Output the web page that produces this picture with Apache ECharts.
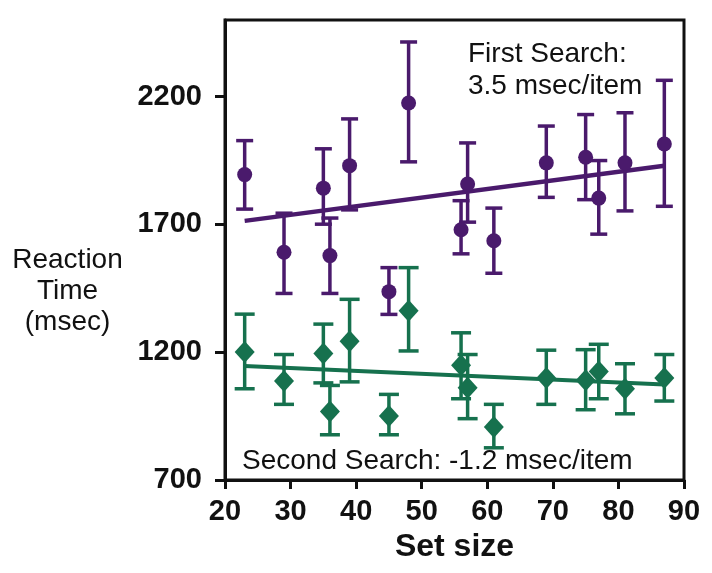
<!DOCTYPE html>
<html>
<head>
<meta charset="utf-8">
<script src="https://cdn.jsdelivr.net/npm/echarts@6/dist/echarts.min.js"></script>
<style>
html,body{margin:0;padding:0;background:#fff;}
#c{width:712px;height:573px;}
</style>
</head>
<body>
<div id="c"></div>
<script>
// ---- data ----
var setSize = [23, 29, 35, 36, 39, 45, 48, 56, 57, 61, 69, 75, 77, 81, 87];

var firstMean = [1895, 1591, 1842, 1578, 1930, 1437, 2175, 1679, 1858, 1636, 1941, 1963, 1803, 1941, 2015];
var firstHigh = [2028, 1744, 1996, 1725, 2113, 1531, 2414, 1793, 2019, 1764, 2085, 2130, 1950, 2137, 2264];
var firstLow  = [1760, 1430, 1701, 1430, 1757, 1348, 1945, 1585, 1709, 1509, 1806, 1797, 1662, 1753, 1771];

var secondMean = [1201, 1087, 1195, 968, 1243, 950, 1362, 1149, 1061, 907, 1099, 1090, 1125, 1057, 1099];
var secondHigh = [1349, 1191, 1310, 1070, 1407, 1035, 1531, 1276, 1191, 996, 1208, 1210, 1231, 1155, 1191];
var secondLow  = [1057, 996, 1080, 877, 1084, 877, 1205, 1018, 940, 826, 996, 975, 1018, 959, 1009];

var firstFitX = [23, 87];
var firstFitY = [1714, 1930];
var secondFitX = [23, 87];
var secondFitY = [1146, 1074];

var yTicks = [700, 1200, 1700, 2200];
var xTicks = [20, 30, 40, 50, 60, 70, 80, 90];

var firstLabel = ['First Search:', '3.5 msec/item'];
var secondLabel = 'Second Search: -1.2 msec/item';
var yName = ['Reaction', 'Time', '(msec)'];
var xName = 'Set size';

// ---- build ----
var PURPLE = '#4a1a6c';
var GREEN = '#16714e';
var INK = '#111111';

function zip(a, b) { return a.map(function (v, i) { return [v, b[i]]; }); }
function zip3(a, b, c) { return a.map(function (v, i) { return [v, b[i], c[i]]; }); }

function errRender(color, capHalf, lw) {
  return function (params, api) {
    var x = api.value(0);
    var top = api.coord([x, api.value(1)]);
    var bot = api.coord([x, api.value(2)]);
    var st = { stroke: color, lineWidth: lw };
    return {
      type: 'group',
      children: [
        { type: 'line', shape: { x1: top[0], y1: top[1], x2: bot[0], y2: bot[1] }, style: st },
        { type: 'line', shape: { x1: top[0] - capHalf, y1: top[1], x2: top[0] + capHalf, y2: top[1] }, style: st },
        { type: 'line', shape: { x1: bot[0] - capHalf, y1: bot[1], x2: bot[0] + capHalf, y2: bot[1] }, style: st }
      ]
    };
  };
}

function plain(v) { return String(v); }

var chart = echarts.init(document.getElementById('c'), null, { renderer: 'canvas' });

var option = {
  animation: false,
  backgroundColor: '#ffffff',
  grid: {
    left: 225, right: 28, top: 20, bottom: 93,
    show: true, borderColor: INK, borderWidth: 3, backgroundColor: 'transparent'
  },
  xAxis: {
    type: 'value', min: 20, max: 90, interval: 10,
    name: xName, nameLocation: 'middle', nameGap: 47,
    nameTextStyle: { fontFamily: 'Liberation Sans', fontSize: 32, fontWeight: 'bold', color: INK },
    axisLine: { show: true, lineStyle: { color: INK, width: 3 } },
    axisTick: { show: true, inside: false, length: 9, lineStyle: { color: INK, width: 3 } },
    axisLabel: { margin: 17, fontFamily: 'Liberation Sans', fontSize: 29, fontWeight: 'bold', color: INK,
      customValues: xTicks, formatter: plain },
    splitLine: { show: false }
  },
  yAxis: {
    type: 'value', min: 700, max: 2500,
    axisLine: { show: true, lineStyle: { color: INK, width: 3 } },
    axisTick: { show: true, inside: false, length: 10, lineStyle: { color: INK, width: 3 }, customValues: yTicks },
    axisLabel: { margin: 23, fontFamily: 'Liberation Sans', fontSize: 29, fontWeight: 'bold', color: INK,
      customValues: yTicks, formatter: plain },
    splitLine: { show: false }
  },
  graphic: [
    { type: 'text', x: 67.5, y: 291, z: 10,
      style: { text: yName.join('\n'), fontFamily: 'Liberation Sans', fontSize: 28, lineHeight: 31,
        fill: INK, align: 'center', verticalAlign: 'middle' } },
    { type: 'text', x: 468, y: 54, z: 10,
      style: { text: firstLabel[0], fontFamily: 'Liberation Sans', fontSize: 28, fill: INK, align: 'left', verticalAlign: 'middle' } },
    { type: 'text', x: 468, y: 86, z: 10,
      style: { text: firstLabel[1], fontFamily: 'Liberation Sans', fontSize: 28, fill: INK, align: 'left', verticalAlign: 'middle' } },
    { type: 'text', x: 242, y: 461, z: 10,
      style: { text: secondLabel, fontFamily: 'Liberation Sans', fontSize: 28, fill: INK, align: 'left', verticalAlign: 'middle' } }
  ],
  series: [
    { type: 'line', data: zip(firstFitX, firstFitY), symbol: 'none', silent: true,
      lineStyle: { color: PURPLE, width: 4.5 }, z: 2 },
    { type: 'line', data: zip(secondFitX, secondFitY), symbol: 'none', silent: true,
      lineStyle: { color: GREEN, width: 4 }, z: 2 },
    { type: 'custom', data: zip3(setSize, firstHigh, firstLow), renderItem: errRender(PURPLE, 8.5, 3.5),
      encode: { x: 0, y: [1, 2] }, z: 3 },
    { type: 'custom', data: zip3(setSize, secondHigh, secondLow), renderItem: errRender(GREEN, 10, 3.5),
      encode: { x: 0, y: [1, 2] }, z: 3 },
    { type: 'scatter', data: zip(setSize, firstMean), symbol: 'circle', symbolSize: 15,
      itemStyle: { color: PURPLE, opacity: 1 }, z: 4 },
    { type: 'scatter', data: zip(setSize, secondMean), symbol: 'diamond', symbolSize: [20, 22],
      itemStyle: { color: GREEN, opacity: 1 }, z: 4 }
  ]
};
chart.setOption(option);
</script>
</body>
</html>
